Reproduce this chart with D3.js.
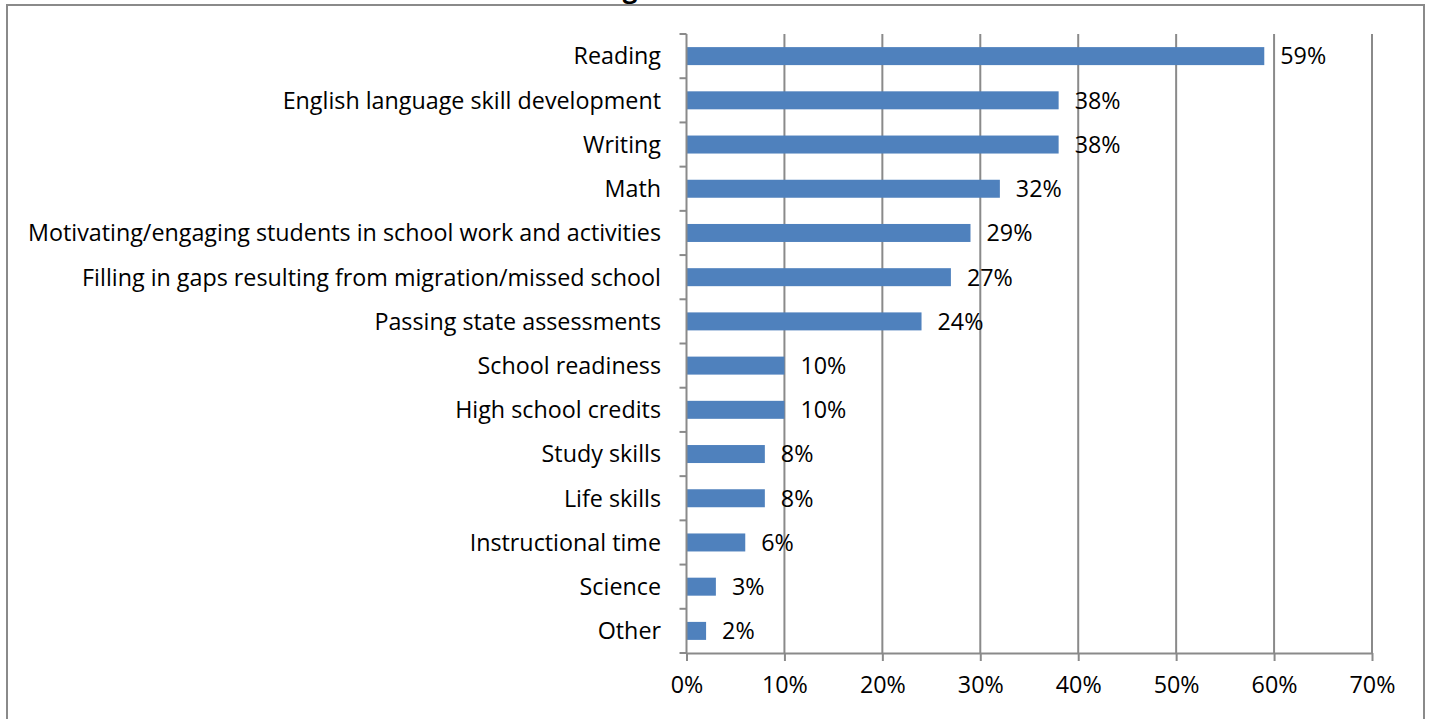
<!DOCTYPE html>
<html>
<head>
<meta charset="utf-8">
<script src="https://cdn.jsdelivr.net/npm/d3@7"></script>
<style>
  html, body { margin: 0; padding: 0; background: #fff; }
  svg { display: block; }
  text { font-family: "Open Sans", "Liberation Sans", sans-serif; fill: #000; }
</style>
</head>
<body>
<svg id="chart" width="1429" height="719"></svg>
<script>
// Share of respondents naming each area of need
const categories = [
  "Reading",
  "English language skill development",
  "Writing",
  "Math",
  "Motivating/engaging students in school work and activities",
  "Filling in gaps resulting from migration/missed school",
  "Passing state assessments",
  "School readiness",
  "High school credits",
  "Study skills",
  "Life skills",
  "Instructional time",
  "Science",
  "Other"
];
const percents = [59, 38, 38, 32, 29, 27, 24, 10, 10, 8, 8, 6, 3, 2];
const tickValues = [0, 10, 20, 30, 40, 50, 60, 70];

const data = categories.map((c, i) => ({ category: c, value: percents[i] / 100 }));

const svg = d3.select("#chart");
const gridColor = "#8a8a8a";
const barColor = "#4f81bd";
const fontSize = 23.3;

// Outer frame (extends below the visible area)
svg.append("rect")
  .attr("x", 7).attr("y", 5)
  .attr("width", 1417).attr("height", 760)
  .attr("fill", "none")
  .attr("stroke", gridColor)
  .attr("stroke-width", 2);

// Title, mostly above the visible area
svg.append("text")
  .attr("x", 630).attr("y", -2)
  .attr("text-anchor", "middle")
  .style("font-weight", "bold")
  .style("font-size", "26px")
  .text("g");

const x = d3.scaleLinear().domain([0, 0.7]).range([686.5, 1372]);
const y = d3.scaleBand().domain(categories).range([34, 653])
  .paddingInner(0.593).paddingOuter(0.2965);

// Vertical gridlines
svg.append("g")
  .selectAll("line")
  .data(tickValues.filter(t => t > 0))
  .join("line")
  .attr("x1", d => x(d / 100)).attr("x2", d => x(d / 100))
  .attr("y1", 34).attr("y2", 653)
  .attr("stroke", gridColor)
  .attr("stroke-width", 2);

// Bars
svg.append("g")
  .selectAll("rect")
  .data(data)
  .join("rect")
  .attr("x", x(0))
  .attr("y", d => y(d.category))
  .attr("width", d => x(d.value) - x(0))
  .attr("height", y.bandwidth())
  .attr("fill", barColor);

// Value labels
svg.append("g")
  .selectAll("text")
  .data(data)
  .join("text")
  .attr("x", d => x(d.value) + 16)
  .attr("y", d => y(d.category) + y.bandwidth() / 2)
  .attr("dy", "0.36em")
  .style("font-size", fontSize + "px")
  .text(d => d3.format(".0%")(d.value));

// X axis (bottom)
const xAxis = d3.axisBottom(x)
  .tickValues(tickValues.map(t => t / 100))
  .tickFormat(d3.format(".0%"))
  .tickSizeInner(8)
  .tickSizeOuter(0)
  .tickPadding(15);
const gx = svg.append("g")
  .attr("transform", "translate(0,653)")
  .call(xAxis);
gx.select(".domain").attr("stroke", gridColor).attr("stroke-width", 2);
gx.selectAll(".tick line").attr("stroke", gridColor).attr("stroke-width", 2);
gx.selectAll(".tick text")
  .style("font-size", fontSize + "px")
  .style("font-family", "'Open Sans', 'Liberation Sans', sans-serif")
  .attr("fill", "#000");

// Y axis (left): tick marks at category boundaries
const step = y.step();
const boundaries = d3.range(categories.length + 1).map(i => 34 + i * step);
const gy = svg.append("g");
gy.append("line")
  .attr("x1", x(0)).attr("x2", x(0))
  .attr("y1", 34).attr("y2", 653)
  .attr("stroke", gridColor).attr("stroke-width", 2);
gy.selectAll("line.tick")
  .data(boundaries)
  .join("line")
  .attr("class", "tick")
  .attr("x1", x(0) - 7).attr("x2", x(0))
  .attr("y1", d => d).attr("y2", d => d)
  .attr("stroke", gridColor).attr("stroke-width", 2);

// Category labels
gy.selectAll("text")
  .data(categories)
  .join("text")
  .attr("x", 661)
  .attr("y", d => y(d) + y.bandwidth() / 2)
  .attr("dy", "0.36em")
  .attr("text-anchor", "end")
  .style("font-size", fontSize + "px")
  .text(d => d);
</script>
</body>
</html>
